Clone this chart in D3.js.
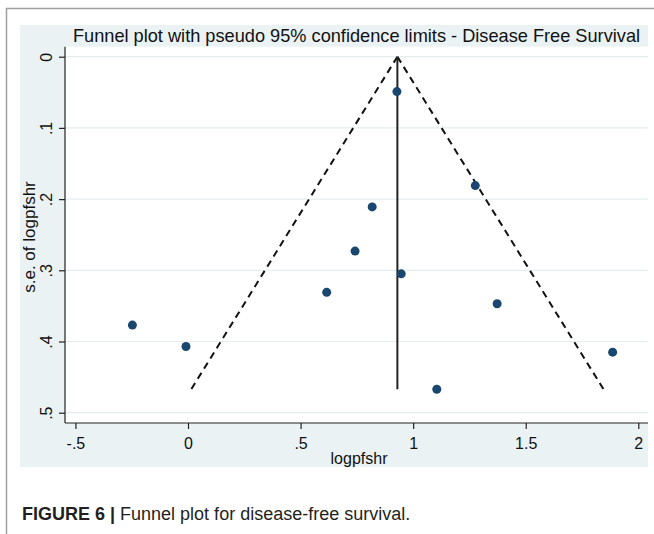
<!DOCTYPE html>
<html>
<head>
<meta charset="utf-8">
<script src="https://cdn.jsdelivr.net/npm/d3@7"></script>
<style>
  html, body { margin: 0; padding: 0; background: #ffffff; }
  svg { display: block; }
  text { font-family: "Liberation Sans", Arial, sans-serif; }
</style>
</head>
<body>
<svg id="chart" width="654" height="534"></svg>
<script>
// Study estimates: log hazard ratio for disease-free survival and its standard error
const logpfshr = [0.928, 1.276, 0.818, 0.742, 0.947, 0.616, 1.373, -0.247, -0.009, 1.886, 1.105];
const seLogpfshr = [0.049, 0.181, 0.211, 0.273, 0.305, 0.331, 0.347, 0.377, 0.407, 0.415, 0.467];

// Pooled (fixed-effect) estimate used as the funnel centre
const pooledEstimate = 0.93;
const zCrit = 1.96;

// Axis ticks
const xTicks = [-0.5, 0, 0.5, 1, 1.5, 2];
const xTickLabels = ["-.5", "0", ".5", "1", "1.5", "2"];
const yTicks = [0, 0.1, 0.2, 0.3, 0.4, 0.5];
const yTickLabels = ["0", ".1", ".2", ".3", ".4", ".5"];

const titleText = "Funnel plot with pseudo 95% confidence limits - Disease Free Survival";
const xTitle = "logpfshr";
const yTitle = "s.e. of logpfshr";
const captionBold = "FIGURE 6 |";
const captionRest = " Funnel plot for disease-free survival.";

const svg = d3.select("#chart");

// Plot region
const plot = { left: 65, right: 648, top: 46.7, bottom: 423 };

const x = d3.scaleLinear().domain([0, 2]).range([188, 638.3]);
const y = d3.scaleLinear().domain([0, 0.5]).range([56.7, 412.7]);

// Outer figure frame
svg.append("path")
  .attr("d", "M6.5,534V8.5H654")
  .attr("fill", "none")
  .attr("stroke", "#a0a0a0")
  .attr("stroke-width", 1.5);

// Graph region background
svg.append("rect")
  .attr("x", 20).attr("y", 25)
  .attr("width", 628).attr("height", 442)
  .attr("fill", "#eaf2f3");

// Plot region background
svg.append("rect")
  .attr("x", plot.left).attr("y", plot.top)
  .attr("width", plot.right - plot.left).attr("height", plot.bottom - plot.top)
  .attr("fill", "#ffffff");

// Horizontal gridlines
svg.append("g").selectAll("line")
  .data(yTicks)
  .join("line")
  .attr("x1", plot.left).attr("x2", plot.right)
  .attr("y1", d => y(d)).attr("y2", d => y(d))
  .attr("stroke", "#e4eef0")
  .attr("stroke-width", 1.2);

// Title
svg.append("text")
  .attr("x", 356.5).attr("y", 41.5)
  .attr("text-anchor", "middle")
  .attr("font-size", 18.2)
  .attr("fill", "#111")
  .text(titleText);

// X axis
const xAxis = d3.axisBottom(x)
  .tickValues(xTicks)
  .tickFormat((d, i) => xTickLabels[i])
  .tickSize(6)
  .tickSizeOuter(0);

const gx = svg.append("g")
  .attr("transform", `translate(0,${plot.bottom})`)
  .call(xAxis);
gx.select(".domain").remove();
gx.append("line")
  .attr("x1", plot.left).attr("x2", plot.right)
  .attr("y1", 0).attr("y2", 0)
  .attr("stroke", "#222").attr("stroke-width", 1.2);
gx.selectAll(".tick line").attr("stroke", "#222").attr("stroke-width", 1.2);
gx.selectAll(".tick text")
  .attr("font-size", 16)
  .attr("font-family", "Liberation Sans, Arial, sans-serif")
  .attr("fill", "#111")
  .attr("dy", null)
  .attr("y", 26);

// Y axis (rotated tick labels)
const yAxis = d3.axisLeft(y)
  .tickValues(yTicks)
  .tickFormat((d, i) => yTickLabels[i])
  .tickSize(6)
  .tickSizeOuter(0);

const gy = svg.append("g")
  .attr("transform", `translate(${plot.left},0)`)
  .call(yAxis);
gy.select(".domain").remove();
gy.append("line")
  .attr("x1", 0).attr("x2", 0)
  .attr("y1", plot.top).attr("y2", plot.bottom)
  .attr("stroke", "#222").attr("stroke-width", 1.2);
gy.selectAll(".tick line").attr("stroke", "#222").attr("stroke-width", 1.2);
gy.selectAll(".tick text")
  .attr("font-size", 16)
  .attr("font-family", "Liberation Sans, Arial, sans-serif")
  .attr("fill", "#111")
  .attr("x", null).attr("dy", null)
  .attr("text-anchor", "middle")
  .attr("transform", "translate(-13.5,0) rotate(-90)");

// Axis titles
svg.append("text")
  .attr("x", 359).attr("y", 464)
  .attr("text-anchor", "middle")
  .attr("font-size", 16)
  .attr("fill", "#111")
  .text(xTitle);

svg.append("text")
  .attr("transform", `translate(35,237) rotate(-90)`)
  .attr("text-anchor", "middle")
  .attr("font-size", 17)
  .attr("fill", "#111")
  .text(yTitle);

// Pseudo 95% confidence limits
const seMax = d3.max(seLogpfshr);
const limits = [
  [[pooledEstimate, 0], [pooledEstimate - zCrit * seMax, seMax]],
  [[pooledEstimate, 0], [pooledEstimate + zCrit * seMax, seMax]]
];
const line = d3.line().x(d => x(d[0])).y(d => y(d[1]));

svg.append("g").selectAll("path")
  .data(limits)
  .join("path")
  .attr("d", line)
  .attr("fill", "none")
  .attr("stroke", "#111")
  .attr("stroke-width", 2)
  .attr("stroke-dasharray", "7,5");

// Pooled estimate line
svg.append("path")
  .attr("d", line([[pooledEstimate, 0], [pooledEstimate, seMax]]))
  .attr("fill", "none")
  .attr("stroke", "#222")
  .attr("stroke-width", 2);

// Study points
svg.append("g").selectAll("circle")
  .data(logpfshr.map((v, i) => ({ v, se: seLogpfshr[i] })))
  .join("circle")
  .attr("cx", d => x(d.v))
  .attr("cy", d => y(d.se))
  .attr("r", 4.5)
  .attr("fill", "#1a476f");

// Caption
const cap = svg.append("text")
  .attr("x", 22).attr("y", 520)
  .attr("font-size", 18)
  .attr("fill", "#231f20");
cap.append("tspan").attr("font-weight", "bold").text(captionBold);
cap.append("tspan").text(captionRest);
</script>
</body>
</html>
